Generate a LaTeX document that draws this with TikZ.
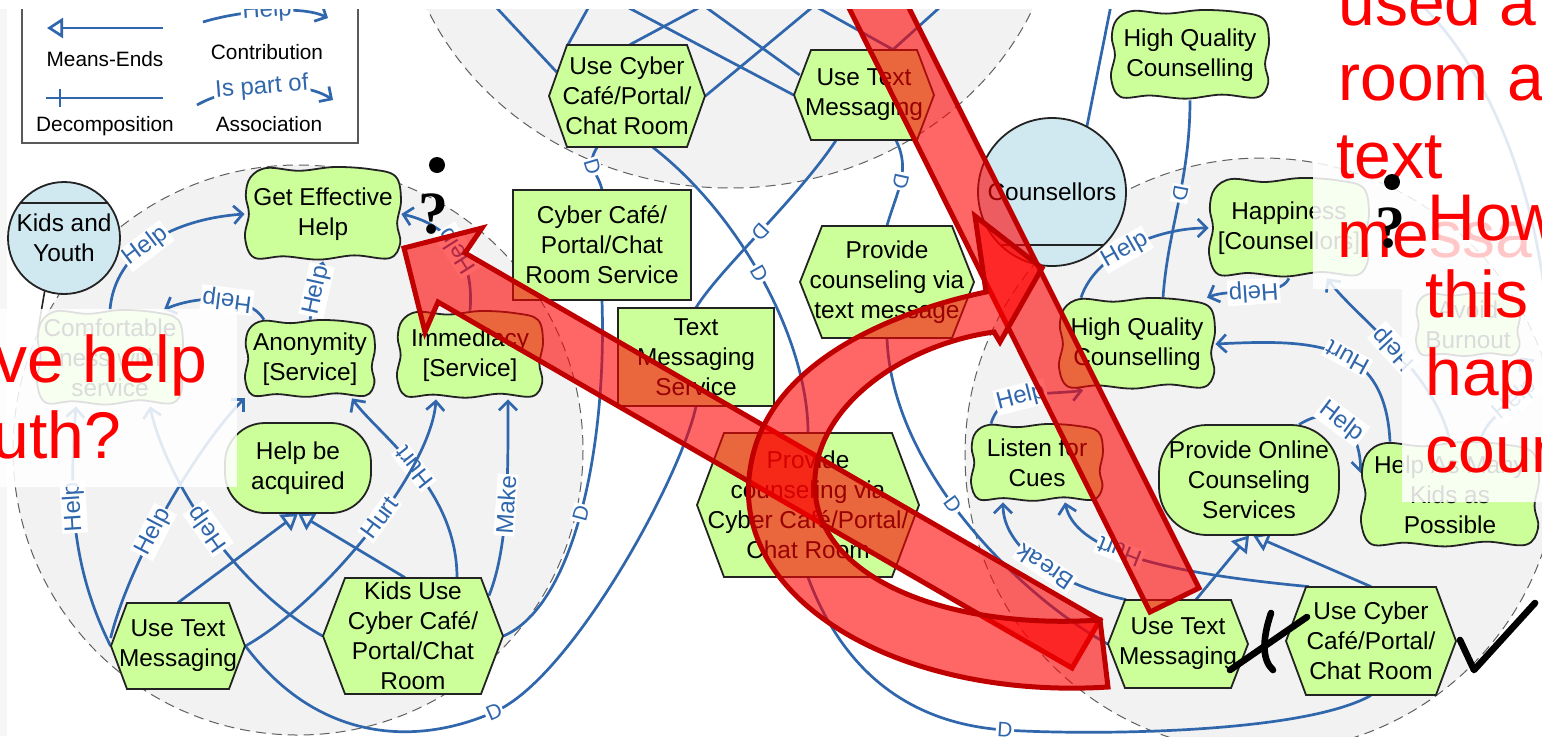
\documentclass[tikz,border=0pt]{standalone}
\usepackage{fontspec}
\setmainfont{Liberation Sans}
\newfontfamily\qfont{Liberation Serif}
\usetikzlibrary{arrows.meta,calc}

\definecolor{goalgreen}{RGB}{204,255,153}
\definecolor{actorblue}{RGB}{208,232,240}
\definecolor{zonegrey}{RGB}{242,242,242}
\definecolor{linkblue}{RGB}{48,102,172}
\definecolor{darkred}{RGB}{192,0,0}
\definecolor{inkgrey}{RGB}{35,35,35}

\pgfdeclarelayer{zones}
\pgfdeclarelayer{links}
\pgfsetlayers{zones,links,main}

\tikzset{
  zone/.style={fill=zonegrey, draw=gray!75!black, line width=0.5pt, dash pattern=on 5pt off 3pt},
  shapeline/.style={fill=goalgreen, draw=inkgrey, line width=0.9pt},
  ntext/.style={font=\fontsize{12.2}{15}\selectfont, align=center, inner sep=0pt, text=black},
  link/.style={draw=linkblue, line width=1.35pt},
  contrib/.style={link, -{Straight Barb[length=4.5pt,width=9pt]}},
  meansend/.style={link, -{Triangle[open,length=8pt,width=10pt]}},
  lbl/.style={font=\fontsize{12}{12}\selectfont, text=linkblue, fill=white, inner sep=0.8pt, sloped, allow upside down},
  dlbl/.style={lbl, font=\fontsize{10.5}{10.5}\selectfont},
  legtext/.style={font=\fontsize{10.4}{12}\selectfont, inner sep=0pt},
  redarrow/.style={fill=red, fill opacity=0.6, draw=darkred, line width=2.5pt, line join=miter},
  haze/.style={fill=white, fill opacity=0.86},
  bigred/.style={font=\fontsize{33}{33}\selectfont, text=red, anchor=base west, inner sep=0pt},
  qmark/.style={font=\qfont\bfseries\fontsize{30}{30}\selectfont, inner sep=0pt},
  ink/.style={draw=black, line width=3.3pt, line cap=round, line join=round},
}

% softgoal: pillow shaped outline around a text node
\newcommand\softnode[6]{%
  \draw[shapeline] plot[smooth cycle, tension=0.6] coordinates {
    ({#2-0.93*#4},{#3-0.78*#5}) ({#2-0.72*#4},{#3-0.98*#5}) ({#2-0.3*#4},{#3-0.92*#5})
    ({#2+0.15*#4},{#3-1.0*#5}) ({#2+0.62*#4},{#3-0.95*#5}) ({#2+0.93*#4},{#3-0.8*#5})
    ({#2+1.0*#4},{#3-0.3*#5}) ({#2+0.95*#4},{#3+0.2*#5}) ({#2+0.99*#4},{#3+0.62*#5})
    ({#2+0.85*#4},{#3+0.94*#5}) ({#2+0.4*#4},{#3+0.88*#5}) ({#2-0.05*#4},{#3+0.97*#5})
    ({#2-0.5*#4},{#3+0.9*#5}) ({#2-0.88*#4},{#3+0.93*#5})
    ({#2-1.0*#4},{#3+0.5*#5}) ({#2-0.95*#4},{#3}) ({#2-0.99*#4},{#3-0.4*#5})};
  \node[ntext, minimum width=#4pt, minimum height=#5pt] (#1) at (#2,#3) {#6};}
% task: hexagon
\newcommand\tasknode[7]{%
  \draw[shapeline] ({#2-#4},#3) -- ({#2-#4+#6},{#3-#5}) -- ({#2+#4-#6},{#3-#5}) --
    ({#2+#4},#3) -- ({#2+#4-#6},{#3+#5}) -- ({#2-#4+#6},{#3+#5}) -- cycle;
  \node[ntext, minimum width=#4pt, minimum height=#5pt] (#1) at (#2,#3) {#7};}
% goal: rounded box
\newcommand\goalnode[7]{%
  \draw[shapeline, rounded corners=#6pt] ({#2-#4},{#3-#5}) rectangle ({#2+#4},{#3+#5});
  \node[ntext, minimum width=#4pt, minimum height=#5pt] (#1) at (#2,#3) {#7};}
% resource: rectangle
\newcommand\resnode[6]{%
  \draw[shapeline] ({#2-#4},{#3-#5}) rectangle ({#2+#4},{#3+#5});
  \node[ntext, minimum width=#4pt, minimum height=#5pt] (#1) at (#2,#3) {#6};}
% actor: circle with a chord
\newcommand\actornode[6]{%
  \draw[fill=actorblue, draw=inkgrey, line width=0.9pt] (#2,#3) circle[radius=#4];
  \draw[draw=inkgrey, line width=0.9pt] ({#2-sqrt((#4)^2-(#5)^2)},{#3+(#5)}) -- ({#2+sqrt((#4)^2-(#5)^2)},{#3+(#5)});
  \node[ntext, circle, minimum size=#4pt] (#1) at (#2,#3) {#6};}

\begin{document}
\begin{tikzpicture}[x=0.5pt,y=-0.5pt]
\useasboundingbox (0,0) rectangle (1542,736);
\clip (0,0) rectangle (1542,736);

% ---------- page and boundaries ----------
\begin{pgfonlayer}{zones}
  \fill[white] (0,0) rectangle (1542,736);
  \fill[gray!7] (0,0) rectangle (7,736);
  \draw[zone] (298,450) circle[radius=285];
  \draw[zone] (730,-110) ellipse[x radius=330, y radius=298];
  \draw[zone] (1262,455) circle[radius=297];
\end{pgfonlayer}

% ---------- elements ----------
\actornode{kids}{64}{238}{56}{-35}{Kids and\\Youth}
\softnode{geh}{323}{214}{78}{47}{Get Effective\\Help}
\softnode{anon}{310}{359}{65}{39}{Anonymity\\{[Service]}}
\softnode{immed}{470}{355}{73}{44}{Immediacy\\{[Service]}}
\softnode{comf}{110}{358}{73}{48}{Comfortable\\ness with\\service}
\goalnode{hba}{298}{468}{73}{45}{20}{Help be\\acquired}
\tasknode{utm1}{178}{646}{67}{43}{16}{Use Text\\Messaging}
\tasknode{kuc}{413}{636}{90}{58}{22}{Kids Use\\Cyber Café/\\Portal/Chat\\Room}

\tasknode{ucc2}{627}{96}{78}{51}{18}{Use Cyber\\Café/Portal/\\Chat Room}
\tasknode{utm2}{864}{95}{70}{45}{17}{Use Text\\Messaging}
\resnode{ccs}{602}{245}{89}{55}{Cyber Café/\\Portal/Chat\\Room Service}
\resnode{tms}{696}{357}{78}{49}{Text\\Messaging\\Service}
\tasknode{pct}{887}{282}{87}{56}{22}{Provide\\counseling via\\text message}
\tasknode{pcc}{808}{505}{111}{72}{27}{Provide\\counseling via\\Cyber Café/Portal/\\Chat Room}

\softnode{hqc1}{1190}{55}{79}{45}{High Quality\\Counselling}
\actornode{couns}{1052}{192}{74}{53}{Counsellors}
\softnode{happy}{1289}{228}{80}{50}{Happiness\\{[Counsellors]}}
\softnode{hqc2}{1137}{344}{78}{46}{High Quality\\Counselling}
\softnode{lfc}{1037}{463}{66}{39}{Listen for\\Cues}
\goalnode{pocs}{1249}{480}{90}{55}{24}{Provide Online\\Counseling\\Services}
\softnode{hamk}{1450}{495}{89}{53}{Help As Many\\Kids as\\Possible}
\softnode{avoid}{1468}{325}{52}{32}{Avoid\\Burnout}
\tasknode{utm3}{1178}{644}{70}{44}{17}{Use Text\\Messaging}
\tasknode{ucc3}{1371}{641}{85}{54}{20}{Use Cyber\\Café/Portal/\\Chat Room}

% free ends of links leaving the picture
\coordinate (up1) at (480,-10);
\coordinate (up2) at (598,-10);
\coordinate (up3) at (732,-10);
\coordinate (up4) at (833,-10);
\coordinate (up5) at (595,-10);
\coordinate (up6) at (682,-10);
\coordinate (up7) at (786,-10);
\coordinate (up8) at (959,-10);
\coordinate (up9) at (1114,-10);
\coordinate (kidsfoot) at (38,330);

% ---------- links ----------
\begin{pgfonlayer}{links}
  % left actor
  \draw[draw=inkgrey, line width=0.8pt] (kids.250) -- (kidsfoot);
  \draw[contrib] (comf.north) .. controls +(5,-60) and +(-70,5) .. (geh.west) node[lbl,pos=0.45]{Help};
  \draw[contrib] (anon.north) -- (geh.south) node[lbl,pos=0.5]{Help};
  \draw[contrib] ([xshift=-23pt]anon.north) .. controls +(-15,-25) and +(35,-15) .. ([xshift=27pt]comf.north) node[lbl,pos=0.45]{Help};
  \draw[contrib] (immed.north) .. controls +(5,-55) and +(45,10) .. (geh.east) node[lbl,pos=0.45]{Help};
  \draw[contrib] (utm1.west) .. controls +(-45,-90) and +(-5,70) .. ([xshift=-17pt]comf.south) node[lbl,pos=0.55]{Help};
  \draw[contrib] ([yshift=4pt]utm1.west) .. controls +(20,-80) and +(-45,45) .. (anon.south west) node[lbl,pos=0.4]{Help};
  \draw[contrib] (kuc.west) .. controls +(-90,-50) and +(15,70) .. ([xshift=20pt]comf.south) node[lbl,pos=0.5]{Help};
  \draw[contrib] ([xshift=22pt]kuc.north) .. controls +(0,-90) and +(25,35) .. ([xshift=21pt]anon.south) node[lbl,pos=0.5]{Hurt};
  \draw[contrib] (utm1.east) .. controls +(80,-45) and +(-5,70) .. ([xshift=-17pt]immed.south) node[lbl,pos=0.55]{Hurt};
  \draw[contrib] ([xshift=38pt,yshift=-9pt]kuc.north) .. controls +(20,-50) and +(0,70) .. ([xshift=19pt]immed.south) node[lbl,pos=0.5]{Make};
  \draw[meansend] (utm1.north) -- (hba.south);
  \draw[meansend] ([xshift=-4pt]kuc.north) -- (hba.south);
  \draw[link] (kuc.east) .. controls +(70,-30) and +(5,150) .. (ccs.south) node[dlbl,pos=0.5]{D};
  \draw[link] (utm1.east) .. controls (320,745) and (420,745) .. (494,712) node[dlbl,pos=1]{D}
              .. controls (570,680) and (680,480) .. (tms.south);
  % middle
  \draw[link] ([xshift=-15pt]ucc2.south) .. controls +(-12,20) and +(-5,-20) .. (ccs.north) node[dlbl,pos=0.45]{D};
  \draw[link] ([xshift=-14pt]utm2.south) .. controls +(-40,60) and +(25,-40) .. (tms.north) node[dlbl,pos=0.5]{D};
  \draw[link] ([xshift=13pt]ucc2.south) .. controls +(90,70) and +(0,-90) .. (pcc.north) node[dlbl,pos=0.47]{D};
  \draw[link] ([xshift=16pt]utm2.south) .. controls +(15,30) and +(10,-35) .. (pct.north) node[dlbl,pos=0.5]{D};
  \draw[link] (pct.south) .. controls +(5,130) and +(-90,-50) .. (utm3.west) node[dlbl,pos=0.45]{D};
  \draw[link] (pcc.south) .. controls (850,690) and (930,725) .. (1005,730) node[dlbl,pos=1]{D}
              .. controls (1080,735) and (1300,735) .. (ucc3.south);
  \draw[link] ([xshift=4pt,yshift=12pt]ucc2.west) -- (up1);
  \draw[link] ([xshift=-29.5pt]ucc2.north) -- (up2);
  \draw[link] ([xshift=1.5pt]ucc2.north) -- (up3);
  \draw[link] (ucc2.east) -- (up4);
  \draw[link] (utm2.west) -- (up5);
  \draw[link] ([xshift=3pt,yshift=10pt]utm2.west) -- (up6);
  \draw[link] ([xshift=14.5pt]utm2.north) -- (up7);
  \draw[link] ([xshift=14.5pt]utm2.north) -- (up8);
  \draw[link] (couns.62) -- (up9);
  % right
  \draw[link] (hqc1.south) .. controls +(0,80) and +(5,-70) .. ([xshift=13pt]hqc2.north) node[dlbl,pos=0.45]{D};
  \draw[contrib] ([xshift=-28pt]hqc2.north) .. controls +(15,-45) and +(-50,0) .. (happy.west) node[lbl,pos=0.45]{Help};
  \draw[contrib] (happy.south) .. controls +(-10,20) and +(25,-10) .. ([xshift=35pt]hqc2.north) node[lbl,pos=0.5]{Help};
  \draw[contrib] (hamk.north) .. controls +(-15,-70) and +(30,40) .. ([xshift=19pt]happy.south) node[lbl,pos=0.5]{Help};
  \draw[contrib] ([xshift=15pt]hamk.north) .. controls +(10,-40) and +(30,40) .. (avoid.south east) node[lbl,pos=0.5]{Help};
  \draw[contrib] ([xshift=-23pt]lfc.north) .. controls +(10,-35) and +(-40,5) .. ([xshift=-27pt]hqc2.south) node[lbl,pos=0.45]{Help};
  \draw[contrib] ([xshift=-30pt]hamk.north) .. controls +(-5,-100) and +(100,-5) .. (hqc2.east) node[lbl,pos=0.45]{Hurt};
  \draw[contrib] ([xshift=25pt]pocs.north) .. controls +(40,-25) and +(0,-40) .. ([yshift=11pt]hamk.west) node[lbl,pos=0.45]{Help};
  \draw[contrib] ([xshift=-26pt]utm3.north) .. controls +(-70,-15) and +(0,45) .. ([xshift=-17pt]lfc.south) node[lbl,pos=0.45]{Break};
  \draw[contrib] ([xshift=-31pt]ucc3.north) .. controls +(-160,-15) and +(10,45) .. ([xshift=14pt]lfc.south) node[lbl,pos=0.55]{Hurt};
  \draw[meansend] ([xshift=9pt]utm3.north) -- (pocs.south);
  \draw[meansend] (ucc3.north) -- ([xshift=2pt]pocs.south);
  \draw[link] (1405,-10) .. controls (1490,60) and (1540,200) .. (1548,330);
\end{pgfonlayer}

% ---------- legend ----------
\draw[draw=gray!70!black, line width=0.9pt] (22,-20) rectangle (358,143);
\coordinate (lgM1) at (163,28); \coordinate (lgM2) at (47,28);
\draw[meansend] (lgM1) -- (lgM2);
\node[legtext] (lgMtxt) at (105,59) {Means-Ends};
\coordinate (lgC1) at (203,22); \coordinate (lgC2) at (328,18);
\draw[contrib] (lgC1) .. controls (235,12) and (300,4) .. (lgC2) node[lbl,pos=0.5]{Help};
\node[legtext] (lgCtxt) at (267,52) {Contribution};
\coordinate (lgD1) at (46,98); \coordinate (lgD2) at (163,98);
\coordinate (lgT1) at (60,89); \coordinate (lgT2) at (60,107);
\draw[link] (lgD1) -- (lgD2);
\draw[link] (lgT1) -- (lgT2);
\node[legtext] (lgDtxt) at (105,126) {Decomposition};
\coordinate (lgA1) at (197,105); \coordinate (lgA2) at (333,100);
\draw[contrib] (lgA1) .. controls (230,86) and (300,78) .. (lgA2) node[lbl,pos=0.48,font=\fontsize{12}{12}\selectfont]{Is part of};
\node[legtext] (lgAtxt) at (269,124) {Association};

% ---------- red emphasis arrows ----------
\draw[redarrow] (404,248) -- (482,228) -- (465,253) -- (1100,620) -- (1072,668) -- (438,302) -- (425,332) -- cycle;
\draw[redarrow] (835,-20) -- (895,-20) -- (1199,588) -- (1150,612) -- cycle;
\draw[redarrow] (1108,687) .. controls (900,700) and (730,600) .. (750,470)
   .. controls (765,360) and (900,310) .. (986,292) -- (975,216) -- (1042,268) -- (1000,342) -- (994,332)
   .. controls (900,345) and (810,410) .. (815,490) .. controls (820,580) and (950,630) .. (1100,620) -- cycle;

% ---------- faded panels ----------
\fill[haze] (0,309) rectangle (237,487);
\fill[haze] (1313,160) -- (1402,160) -- (1402,-10) -- (1552,-10) -- (1552,502) -- (1402,502) -- (1402,289) -- (1313,289) -- cycle;
\fill[white] (-10,-30) rectangle (1552,9);

% ---------- annotations ----------
\node[bigred] (t1) at (1338,25) {used a};
\node[bigred] (t2) at (1338,100) {room a};
\node[bigred] (t3) at (1336,178) {text};
\node[bigred] (t4) at (1337,257) {me\textcolor{red!22}{ssa}};
\node[bigred] (t5) at (1427,240) {How};
\node[bigred] (t6) at (1425,317) {this};
\node[bigred] (t7) at (1425,395) {hap};
\node[bigred] (t8) at (1425,472) {coun};
\node[bigred] (t9) at (-6,382) {ve help};
\node[bigred] (t10) at (-8,458) {uth?};

\fill (437,165) circle[radius=8];
\node[qmark] (q1) at (433,214) {?};
\fill (1392,182) circle[radius=8];
\node[qmark] (q2) at (1390,228) {?};

\draw[ink] (1230,670) -- (1307,617);
\draw[ink] (1271,613) .. controls (1262,640) and (1262,660) .. (1273,670);
\draw[ink] (1460,640) -- (1474,670) -- (1535,603);
\end{tikzpicture}
\end{document}
